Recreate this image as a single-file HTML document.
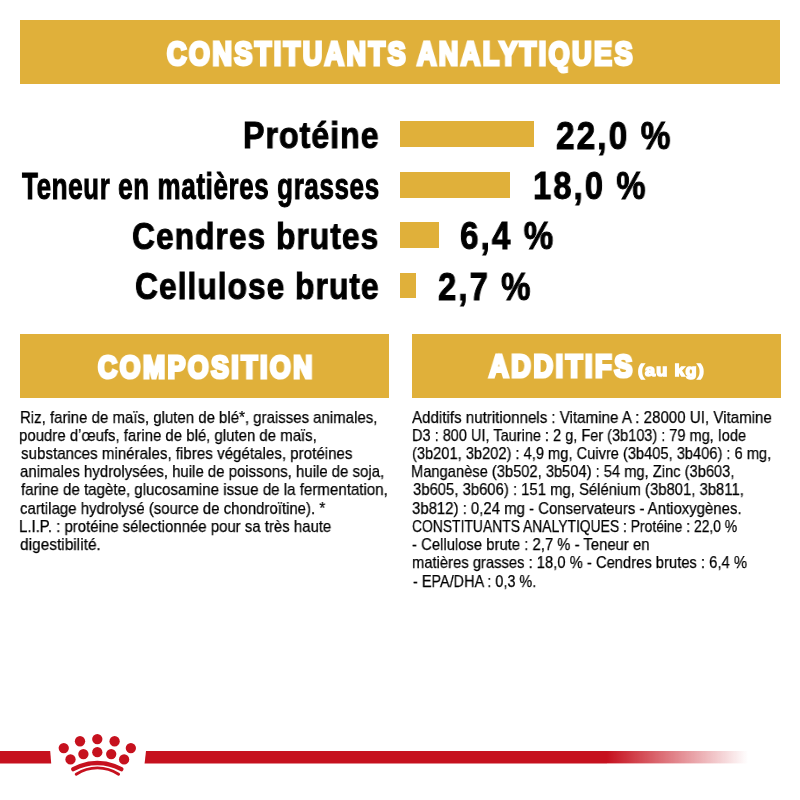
<!DOCTYPE html>
<html><head><meta charset="utf-8"><style>
html,body{margin:0;padding:0;background:#fff;}
body{width:800px;height:800px;position:relative;overflow:hidden;font-family:"Liberation Sans",sans-serif;}
.b{position:absolute;background:#e0b03a;}
.t{position:absolute;white-space:nowrap;line-height:1;transform-origin:0 0;will-change:transform;}
</style></head><body>
<div class="b" style="left:20px;top:20px;width:760px;height:64px"></div>
<div class="b" style="left:400px;top:121.25px;width:134.25px;height:25.75px"></div>
<div class="b" style="left:400px;top:171.75px;width:109.5px;height:25.75px"></div>
<div class="b" style="left:400px;top:222px;width:39px;height:25.75px"></div>
<div class="b" style="left:400px;top:272.5px;width:16.25px;height:25.75px"></div>
<div class="b" style="left:20px;top:333.5px;width:369px;height:64px"></div>
<div class="b" style="left:412px;top:333.5px;width:368.7px;height:64px"></div>
<div class="t" style="left:167.12px;top:38.00px;font-size:32.5px;font-weight:bold;color:#fff;transform:scaleX(0.8292);letter-spacing:3.00px;-webkit-text-stroke:3.2px #fff;">CONSTITUANTS ANALYTIQUES</div>
<div class="t" style="left:243.16px;top:117.00px;font-size:37px;font-weight:bold;color:#000;transform:scaleX(0.8671);letter-spacing:1.20px;-webkit-text-stroke:1.0px #000;">Protéine</div>
<div class="t" style="left:21.83px;top:168.00px;font-size:37px;font-weight:bold;color:#000;transform:scaleX(0.7046);letter-spacing:0.80px;-webkit-text-stroke:1.0px #000;">Teneur en matières grasses</div>
<div class="t" style="left:132.40px;top:218.00px;font-size:37px;font-weight:bold;color:#000;transform:scaleX(0.8577);letter-spacing:1.20px;-webkit-text-stroke:1.0px #000;">Cendres brutes</div>
<div class="t" style="left:134.79px;top:268.00px;font-size:37px;font-weight:bold;color:#000;transform:scaleX(0.8574);letter-spacing:1.20px;-webkit-text-stroke:1.0px #000;">Cellulose brute</div>
<div class="t" style="left:555.53px;top:117.00px;font-size:38px;font-weight:bold;color:#000;transform:scaleX(0.8783);letter-spacing:2.40px;-webkit-text-stroke:1.0px #000;">22,0 %</div>
<div class="t" style="left:532.52px;top:167.00px;font-size:38px;font-weight:bold;color:#000;transform:scaleX(0.8636);letter-spacing:2.40px;-webkit-text-stroke:1.0px #000;">18,0 %</div>
<div class="t" style="left:459.99px;top:217.00px;font-size:38px;font-weight:bold;color:#000;transform:scaleX(0.8727);letter-spacing:2.40px;-webkit-text-stroke:1.0px #000;">6,4 %</div>
<div class="t" style="left:437.92px;top:268.00px;font-size:38px;font-weight:bold;color:#000;transform:scaleX(0.8653);letter-spacing:2.40px;-webkit-text-stroke:1.0px #000;">2,7 %</div>
<div class="t" style="left:97.64px;top:352.00px;font-size:31.5px;font-weight:bold;color:#fff;transform:scaleX(0.8439);letter-spacing:3.00px;-webkit-text-stroke:3.2px #fff;">COMPOSITION</div>
<div class="t" style="left:488.58px;top:351.00px;font-size:31.5px;font-weight:bold;color:#fff;transform:scaleX(0.8624);letter-spacing:3.00px;-webkit-text-stroke:3.2px #fff;">ADDITIFS</div>
<div class="t" style="left:638.21px;top:362.00px;font-size:17px;font-weight:bold;color:#fff;transform:scaleX(1.0640);letter-spacing:1.00px;-webkit-text-stroke:1.5px #fff;">(au kg)</div>
<div class="t" style="left:19.60px;top:409.00px;font-size:17px;font-weight:normal;color:#000;transform:scaleX(0.8815);-webkit-text-stroke:0.25px #000;">Riz, farine de maïs, gluten de blé*, graisses animales,</div>
<div class="t" style="left:19.34px;top:427.00px;font-size:17px;font-weight:normal;color:#000;transform:scaleX(0.8804);-webkit-text-stroke:0.25px #000;">poudre d’œufs, farine de blé, gluten de maïs,</div>
<div class="t" style="left:20.54px;top:445.00px;font-size:17px;font-weight:normal;color:#000;transform:scaleX(0.8904);-webkit-text-stroke:0.25px #000;">substances minérales, fibres végétales, protéines</div>
<div class="t" style="left:20.11px;top:463.00px;font-size:17px;font-weight:normal;color:#000;transform:scaleX(0.8798);-webkit-text-stroke:0.25px #000;">animales hydrolysées, huile de poissons, huile de soja,</div>
<div class="t" style="left:20.94px;top:481.00px;font-size:17px;font-weight:normal;color:#000;transform:scaleX(0.8883);-webkit-text-stroke:0.25px #000;">farine de tagète, glucosamine issue de la fermentation,</div>
<div class="t" style="left:19.94px;top:500.00px;font-size:17px;font-weight:normal;color:#000;transform:scaleX(0.8798);-webkit-text-stroke:0.25px #000;">cartilage hydrolysé (source de chondroïtine). *</div>
<div class="t" style="left:19.45px;top:518.00px;font-size:17px;font-weight:normal;color:#000;transform:scaleX(0.8796);-webkit-text-stroke:0.25px #000;">L.I.P. : protéine sélectionnée pour sa très haute</div>
<div class="t" style="left:19.83px;top:536.00px;font-size:17px;font-weight:normal;color:#000;transform:scaleX(0.9096);-webkit-text-stroke:0.25px #000;">digestibilité.</div>
<div class="t" style="left:412.34px;top:409.00px;font-size:17px;font-weight:normal;color:#000;transform:scaleX(0.8891);-webkit-text-stroke:0.25px #000;">Additifs nutritionnels : Vitamine A : 28000 UI, Vitamine</div>
<div class="t" style="left:412.15px;top:427.00px;font-size:17px;font-weight:normal;color:#000;transform:scaleX(0.8546);-webkit-text-stroke:0.25px #000;">D3 : 800 UI, Taurine : 2 g, Fer (3b103) : 79 mg, Iode</div>
<div class="t" style="left:412.19px;top:445.00px;font-size:17px;font-weight:normal;color:#000;transform:scaleX(0.8619);-webkit-text-stroke:0.25px #000;">(3b201, 3b202) : 4,9 mg, Cuivre (3b405, 3b406) : 6 mg,</div>
<div class="t" style="left:411.26px;top:463.00px;font-size:17px;font-weight:normal;color:#000;transform:scaleX(0.8643);-webkit-text-stroke:0.25px #000;">Manganèse (3b502, 3b504) : 54 mg, Zinc (3b603,</div>
<div class="t" style="left:412.60px;top:481.00px;font-size:17px;font-weight:normal;color:#000;transform:scaleX(0.8737);-webkit-text-stroke:0.25px #000;">3b605, 3b606) : 151 mg, Sélénium (3b801, 3b811,</div>
<div class="t" style="left:411.90px;top:500.00px;font-size:17px;font-weight:normal;color:#000;transform:scaleX(0.8784);-webkit-text-stroke:0.25px #000;">3b812) : 0,24 mg - Conservateurs - Antioxygènes.</div>
<div class="t" style="left:411.96px;top:518.00px;font-size:17px;font-weight:normal;color:#000;transform:scaleX(0.8162);-webkit-text-stroke:0.25px #000;">CONSTITUANTS ANALYTIQUES : Protéine : 22,0 %</div>
<div class="t" style="left:412.35px;top:536.00px;font-size:17px;font-weight:normal;color:#000;transform:scaleX(0.8733);-webkit-text-stroke:0.25px #000;">- Cellulose brute : 2,7 % - Teneur en</div>
<div class="t" style="left:411.64px;top:554.00px;font-size:17px;font-weight:normal;color:#000;transform:scaleX(0.8689);-webkit-text-stroke:0.25px #000;">matières grasses : 18,0 % - Cendres brutes : 6,4 %</div>
<div class="t" style="left:412.69px;top:573.00px;font-size:17px;font-weight:normal;color:#000;transform:scaleX(0.8489);-webkit-text-stroke:0.25px #000;">- EPA/DHA : 0,3 %.</div>
<svg style="position:absolute;left:0;top:0" width="800" height="800" viewBox="0 0 800 800">
<defs><linearGradient id="g" x1="0" x2="1" y1="0" y2="0">
<stop offset="0" stop-color="#c6111e"/>
<stop offset="1" stop-color="#c6111e" stop-opacity="0"/></linearGradient></defs>
<path d="M0 751 H50.2 L51.2 763.4 H0 Z" fill="#c6111e"/>
<path d="M146 751 H607 V763.4 H144.6 Z" fill="#c6111e"/>
<rect x="607" y="751" width="141" height="12.4" fill="url(#g)"/>
<g fill="#c6111e">
<circle cx="63.75" cy="748.1" r="5.15"/><circle cx="80" cy="741.25" r="5.15"/><circle cx="97.3" cy="739.1" r="5.15"/>
<circle cx="114.6" cy="741.25" r="5.15"/><circle cx="130.85" cy="748.1" r="5.15"/>
<circle cx="70.5" cy="759.4" r="5.15"/><circle cx="83.4" cy="754.1" r="5.15"/><circle cx="97.3" cy="752.2" r="5.15"/>
<circle cx="111.2" cy="754.1" r="5.15"/><circle cx="124.1" cy="759.4" r="5.15"/>
</g>
<g fill="none" stroke="#c6111e" stroke-linecap="round">
<path d="M73.3 769.2 A49.5 49.5 0 0 1 121.3 769.2" stroke-width="4.3"/>
<path d="M76.2 774.2 A38.8 38.8 0 0 1 118.6 774.2" stroke-width="2.9"/>
</g>
</svg>
</body></html>
